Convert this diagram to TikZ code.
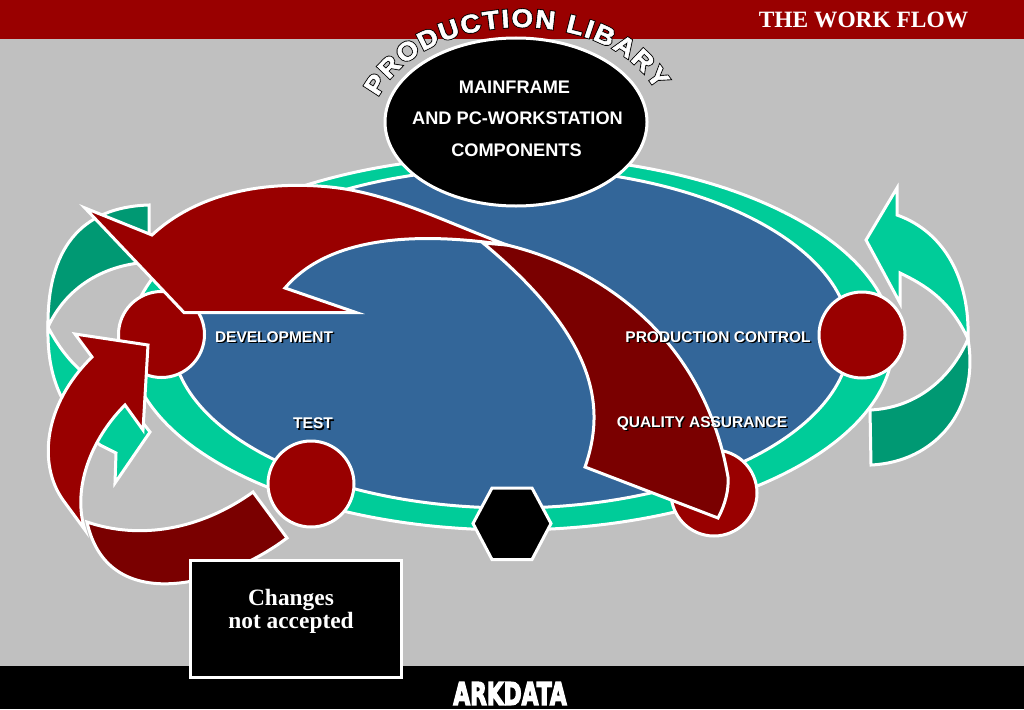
\documentclass[tikz,border=0pt]{standalone}
\usepackage{fontspec}
\usetikzlibrary{shapes.geometric,decorations.text}
\setmainfont{Liberation Sans}
\newfontfamily\serifbold{Liberation Serif Bold}
\newfontfamily\arcfont[FakeBold=2,FakeStretch=1.08]{Liberation Sans Bold}
\newfontfamily\arcfat[FakeBold=9,FakeStretch=1.08]{Liberation Sans Bold}
\newfontfamily\logofont[FakeBold=5]{DejaVu Sans Bold}
\definecolor{bggray}{HTML}{C0C0C0}
\definecolor{barred}{HTML}{990000}
\definecolor{deepred}{HTML}{7A0000}
\definecolor{ringteal}{HTML}{00CC99}
\definecolor{darkteal}{HTML}{009973}
\definecolor{poolblue}{HTML}{336699}
\newcommand{\shadowed}[1]{\rlap{\kern1.5pt\raisebox{-1.5pt}{\color{black}#1}}#1}
\tikzset{
  edged/.style={draw=white,line width=3pt,miter limit=20},
  stationdisc/.style={circle,edged,fill=barred,minimum size=86pt,inner sep=0pt},
  stationlabel/.style={text=white,font=\fontsize{15.5}{18}\selectfont\bfseries,inner sep=0pt},
  ellipselabel/.style={text=white,font=\fontsize{18.2}{22}\selectfont\bfseries,inner sep=0pt},
  seriflabel/.style={text=white,font=\fontsize{23.4}{23}\selectfont\serifbold,inner sep=0pt,align=center}
}
\begin{document}
\begin{tikzpicture}[x=1pt,y=-1pt]
\useasboundingbox (0,0) rectangle (1024,709);
\fill[bggray] (0,0) rectangle (1024,709);
\fill[barred] (0,0) rectangle (1024,39.5);
\fill[black] (0,666) rectangle (1024,709);
\node[text=white,font=\fontsize{23.4}{23}\selectfont\serifbold,inner sep=0pt] (title) at (863.5,19.5) {THE WORK FLOW};

% right green arrow
\draw[edged,fill=darkteal] (968,339) .. controls (980,410) and (935,462) .. (871,465) -- (870,410)
  .. controls (915,408) and (950,380) .. (968,339) -- cycle;
\draw[edged,fill=ringteal] (897,188) -- (897,215) .. controls (945,232) and (970,280) .. (968,339)
  .. controls (950,300) and (925,285) .. (900,273) -- (900,303) -- (866,240) -- cycle;

% left green arrow
\draw[edged,fill=ringteal] (48,327) .. controls (47,375) and (60,410) .. (100,445) -- (116,453) -- (115,483) -- (150,432) -- (125,400) -- (122,392)
  .. controls (90,385) and (65,360) .. (48,327) -- cycle;
\draw[edged,fill=darkteal] (149,205) .. controls (80,207) and (47,250) .. (48,327)
  .. controls (65,290) and (100,265) .. (149,262) -- cycle;

% ring and pool
\node[ellipse,edged,fill=ringteal,minimum width=764pt,minimum height=374pt,inner sep=0pt] (ring) at (511,343) {};
\node[ellipse,edged,fill=poolblue,minimum width=678pt,minimum height=340pt,inner sep=0pt] (pool) at (511,338) {};

% stations
\node[stationdisc] (dev) at (161.5,334.5) {};
\node[stationdisc] (test) at (311,484) {};
\node[stationdisc] (prod) at (862,335) {};
\node[stationdisc] (qa) at (714,493) {};
\draw[edged,fill=black] (473,523.5) -- (492,488) -- (532,488) -- (551,523.5) -- (532,559.5) -- (492,559.5) -- cycle;

% big red sweep, dark tail first
\draw[edged,fill=deepred] (483,243) -- (507,245) .. controls (610,270) and (705,345) .. (728,477)
  .. controls (729,490) and (725,505) .. (718,518) -- (585,467)
  .. controls (605,410) and (600,340) .. (483,243) -- cycle;
\draw[edged,fill=barred] (85,208) -- (152,235) .. controls (195,195) and (260,180) .. (330,187)
  .. controls (390,193) and (445,222) .. (507,245)
  .. controls (420,232) and (330,235) .. (285,288) -- (356,312.5) -- (184,312.5) -- cycle;

% left red arrow, dark tail first
\draw[edged,fill=deepred] (87,522) .. controls (140,540) and (200,530) .. (253,492) -- (287,538)
  .. controls (225,585) and (108,618) .. (87,522) -- cycle;
\draw[edged,fill=barred] (75,334) -- (148,345) -- (143,430) -- (125,405)
  .. controls (90,440) and (72,490) .. (85,530) -- (63,500)
  .. controls (38,465) and (43,405) .. (92,357) -- cycle;

% library
\node[ellipse,edged,fill=black,minimum width=262pt,minimum height=168pt,inner sep=0pt] (library) at (516,122) {};
\node[ellipselabel] (l1) at (514.5,87) {MAINFRAME};
\node[ellipselabel] (l2) at (517.5,118.5) {AND PC-WORKSTATION};
\node[ellipselabel] (l3) at (516.5,150) {COMPONENTS};
\path[decorate,decoration={text along path,text align={fit to path},text={|\fontsize{25.5}{26}\selectfont\arcfat\color{black}|PRODUCTION LIBARY}}]
  (378,97) .. controls (403,50) and (460,28) .. (518,27) .. controls (565,27) and (625,40) .. (656,90);
\path[decorate,decoration={text along path,text align={fit to path},text={|\fontsize{25.5}{26}\selectfont\arcfont\color{white}|PRODUCTION LIBARY}}]
  (378,97) .. controls (403,50) and (460,28) .. (518,27) .. controls (565,27) and (625,40) .. (656,90);

% station labels
\node[stationlabel] (devl) at (274,337.5) {\shadowed{DEVELOPMENT}};
\node[stationlabel] (testl) at (313,424) {\shadowed{TEST}};
\node[stationlabel] (prodl) at (718,337.5) {\shadowed{PRODUCTION CONTROL}};
\node[stationlabel] (qal) at (702,424) {\shadowed{QUALITY ASSURANCE}};

% changes box and logo
\node[rectangle,edged,fill=black,minimum width=211pt,minimum height=117pt,inner sep=0pt] (changes) at (295.5,618.5) {};
\node[seriflabel] (changesl) at (291,611) {Changes\\not accepted};
\node[text=white,inner sep=0pt] (logo) at (510,693.5) {\scalebox{.7}[1]{\fontsize{31}{31}\selectfont\logofont ARKDATA}};
\end{tikzpicture}
\end{document}
